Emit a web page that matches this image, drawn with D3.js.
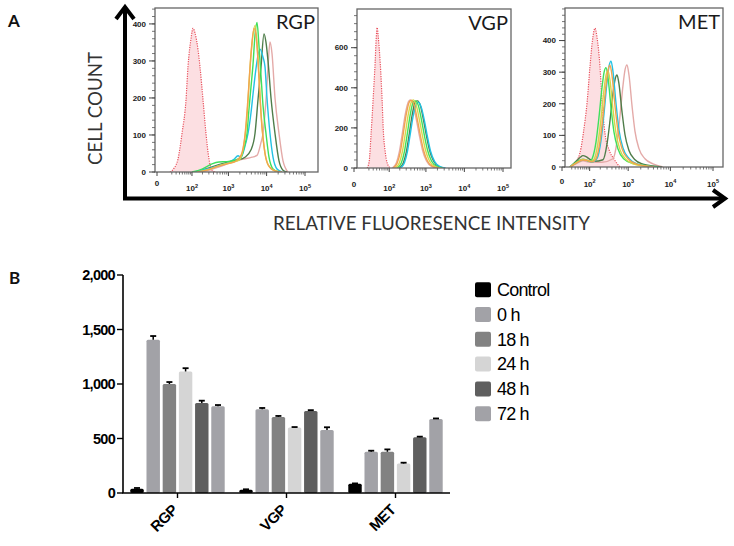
<!DOCTYPE html>
<html><head><meta charset="utf-8">
<script src="https://cdn.jsdelivr.net/npm/d3@7"></script>
<style>body{margin:0;background:#fff}svg{display:block}</style>
</head><body>
<svg id="c" width="734" height="546"></svg>
<script>
// ================= Panel A: flow histograms (intensity, cell count) =================
const histNames = ["RGP", "VGP", "MET"];
const xTickValues = [0, 100, 1000, 10000, 100000];
const xTickExps = ["", "2", "3", "4", "5"];
const rgpYTicks = [0, 100, 200, 300, 400];
const vgpYTicks = [0, 200, 400, 600];
const metYTicks = [0, 100, 200, 300, 400];

const rgpControl = [[16.5,0],[24.8,10],[35.3,35],[48.7,104],[65.7,195],[75.9,285],[93.5,360],[107,388],[123,375],[150,330],[170,285],[207,195],[250,104],[302,35],[365,5],[467,0]];
const rgpPink = [[194,0],[497,12],[1243,26],[2275,34],[4155,40],[5612,45],[7137,80],[8048,104],[9637,195],[10870,284],[12250,351],[13820,320],[16540,200],[21030,104],[26730,30],[36080,0]];
const rgpDarkGreen = [[140,0],[365,14],[917,26],[1682,32],[2726,40],[3912,60],[4976,104],[5960,195],[7137,284],[8546,373],[9637,350],[10870,300],[13010,200],[16540,104],[21030,30],[26730,5],[33980,0]];
const rgpCyan = [[123,0],[267,8],[497,16],[917,24],[1403,34],[1787,44],[2142,40],[2726,70],[3266,104],[3912,160],[4412,210],[5285,280],[5960,315],[6721,332],[8048,310],[9075,284],[10230,200],[12250,104],[14670,40],[18650,8],[25180,0]];
const rgpGreen = [[100,0],[194,8],[365,22],[562,27],[917,28],[1490,32],[2142,40],[2566,65],[3075,104],[3468,170],[3912,230],[4412,290],[4976,370],[5612,404],[6330,340],[7137,260],[8048,180],[9637,104],[11540,40],[14670,8],[19800,0]];
const rgpYellow = [[140,0],[365,10],[676,20],[1243,26],[1898,32],[2416,60],[3075,150],[3684,280],[4412,370],[4976,396],[5612,350],[6330,260],[7137,160],[8546,70],[10870,20],[15580,4],[23710,0]];
const rgpOrange = [[140,0],[267,5],[497,15],[917,22],[1490,28],[2142,45],[2726,100],[3266,200],[3912,320],[4686,388],[5285,370],[5960,300],[6721,200],[7579,120],[9075,50],[11540,15],[16540,3],[25180,0]];

const vgpControl = [[16.5,0],[20.4,30],[24.8,173],[29.7,340],[35.3,527],[38.4,640],[41.6,700],[45,660],[48.7,600],[52.6,527],[61,330],[65.7,200],[75.9,80],[87.2,25],[107,0]];
const vgpPink = [[123,0],[160,25],[194,80],[235,173],[284,270],[343,330],[388,340],[467,310],[562,240],[676,160],[812,90],[1036,35],[1403,8],[2016,0]];
const vgpDarkGreen = [[194,0],[250,25],[302,80],[365,173],[439,270],[529,330],[598,335],[719,310],[863,240],[1036,160],[1243,90],[1583,35],[2142,8],[3075,0]];
const vgpCyan = [[207,0],[267,25],[322,80],[388,173],[467,265],[562,320],[636,328],[764,300],[917,235],[1100,155],[1320,85],[1682,33],[2275,8],[3266,0]];
const vgpGreen = [[170,0],[220,25],[267,80],[322,173],[388,270],[467,330],[529,335],[636,310],[764,240],[917,160],[1100,90],[1403,35],[1898,8],[2726,0]];
const vgpYellow = [[150,0],[194,25],[235,80],[284,173],[343,270],[413,330],[467,340],[562,310],[676,240],[812,160],[975,90],[1243,35],[1682,8],[2416,0]];
const vgpOrange = [[131,0],[170,25],[207,80],[250,173],[302,270],[365,330],[413,338],[497,310],[598,240],[719,160],[863,90],[1100,35],[1490,8],[2142,0]];

const metControl = [[15.6,0],[32.7,15],[51.8,60],[62.5,106],[84.5,211],[102,317],[121,400],[143,439],[163,410],[196,317],[222,211],[266,106],[337,55],[450,25],[633,0]];
const metPink = [[15.6,0],[32.7,10],[61,20],[102,15],[222,15],[425,26],[535,81],[633,162],[750,258],[839,307],[937,323],[1047,291],[1237,194],[1458,113],[1816,58],[2520,26],[3900,10],[6708,0]];
const metDarkGreen = [[15.6,0],[32.7,18],[47.6,30],[61,36],[76.8,33],[102,24],[134,18],[236,23],[300,73],[357,146],[425,233],[477,276],[535,291],[599,262],[709,175],[839,102],[1047,52],[1458,23],[2262,9],[3900,3],[6355,0]];
const metCyan = [[15.6,0],[32.7,12],[61,22],[88.9,20],[117,15],[163,27],[209,84],[250,168],[300,268],[337,318],[379,335],[425,302],[505,201],[599,117],[750,60],[1047,27],[1627,10],[2813,3],[4115,0]];
const metGreen = [[15.6,0],[32.7,15],[61,25],[102,18],[117,25],[152,78],[184,157],[222,251],[250,298],[282,314],[318,283],[379,188],[450,110],[566,57],[793,25],[1237,12],[2142,6],[3312,2],[5116,0]];
const metYellow = [[15.6,0],[32.7,12],[61,24],[88.9,20],[110,18],[134,24],[173,76],[209,152],[250,244],[282,290],[318,305],[357,275],[425,183],[505,107],[633,55],[887,24],[1381,9],[2387,3],[4115,0]];
const metOrange = [[15.6,0],[32.7,12],[61,22],[88.9,20],[117,16],[152,26],[196,80],[236,161],[282,258],[318,306],[357,322],[401,290],[477,193],[566,113],[709,58],[991,26],[1541,10],[2664,3],[4115,0]];

// ================= Panel B: bar chart =================
const groups = ["RGP", "VGP", "MET"];
const conditions = ["Control", "0 h", "18 h", "24 h", "48 h", "72 h"];
const rgpMeans = [40, 1405, 1000, 1115, 825, 795];
const rgpErrs  = [6, 35, 18, 30, 22, 12];
const vgpMeans = [30, 768, 697, 600, 752, 578];
const vgpErrs  = [4, 12, 10, 5, 8, 25];
const metMeans = [85, 378, 378, 270, 512, 680];
const metErrs  = [3, 10, 22, 8, 5, 4];
const barYTicks = [0, 500, 1000, 1500, 2000];
const barColors = ["#000000", "#a2a2a7", "#828282", "#d5d5d5", "#5f5f5f", "#a2a2a7"];

// ================= Drawing =================
const svg = d3.select("#c");
const ARIAL = "'Liberation Sans', Arial, sans-serif";
const CAL = "Lato, 'Open Sans', sans-serif";
const curveColors = {pink:"#e4aaa8", darkgreen:"#4f7d4a", cyan:"#22c2e4", green:"#3ee05c", yellow:"#d4d84c", orange:"#f2a44e"};

const histCfg = [
  {name:histNames[0], ctrl:rgpControl, curves:[["pink",rgpPink],["darkgreen",rgpDarkGreen],["cyan",rgpCyan],["green",rgpGreen],["yellow",rgpYellow],["orange",rgpOrange]],
   yTicks:rgpYTicks, yMax:443, minor:20, c:14, xr:[157,305], f:[155,8,318,172], lblY:191, zeroY:185.5},
  {name:histNames[1], ctrl:vgpControl, curves:[["pink",vgpPink],["darkgreen",vgpDarkGreen],["cyan",vgpCyan],["green",vgpGreen],["yellow",vgpYellow],["orange",vgpOrange]],
   yTicks:vgpYTicks, yMax:793, minor:40, c:14, xr:[354,503], f:[357,9,511,168], lblY:191, zeroY:186.5},
  {name:histNames[2], ctrl:metControl, curves:[["pink",metPink],["darkgreen",metDarkGreen],["cyan",metCyan],["green",metGreen],["yellow",metYellow],["orange",metOrange]],
   yTicks:metYTicks, yMax:503, minor:20, c:29, xr:[562,713], f:[565,8,723,167], lblY:186.5, zeroY:183.5}
];

const defs = svg.append("defs");
histCfg.forEach((p, i) => {
  const [fx0, fy0, fx1, fy1] = p.f;
  const x = d3.scaleSymlog().constant(p.c).domain([0, 1e5]).range(p.xr);
  const y = d3.scaleLinear().domain([0, p.yMax]).range([fy1, fy0]);
  const g = svg.append("g");
  defs.append("clipPath").attr("id", "clip" + i).append("rect")
    .attr("x", fx0).attr("y", fy0).attr("width", fx1 - fx0).attr("height", fy1 - fy0);
  g.append("rect").attr("x", fx0).attr("y", fy0).attr("width", fx1 - fx0).attr("height", fy1 - fy0)
    .attr("fill", "#fff");
  const cg = g.append("g").attr("clip-path", `url(#clip${i})`);
  const line = d3.line().x(d => x(d[0])).y(d => y(d[1])).curve(d3.curveMonotoneX);
  const area = d3.area().x(d => x(d[0])).y0(y(0)).y1(d => y(d[1])).curve(d3.curveMonotoneX);
  cg.append("path").attr("d", area(p.ctrl)).attr("fill", "rgba(248,185,190,0.45)");
  cg.append("path").attr("d", line(p.ctrl)).attr("fill", "none").attr("stroke", "#e8505c")
    .attr("stroke-width", 1.2).attr("stroke-dasharray", "1.2,1.2");
  p.curves.forEach(([col, data]) => {
    cg.append("path").attr("d", line(data)).attr("fill", "none")
      .attr("stroke", curveColors[col]).attr("stroke-width", 1.4);
  });
  g.append("rect").attr("x", fx0).attr("y", fy0).attr("width", fx1 - fx0).attr("height", fy1 - fy0)
    .attr("fill", "none").attr("stroke", "#666").attr("stroke-width", 1.3);
  // y ticks
  d3.range(0, p.yMax, p.minor).forEach(v => {
    g.append("line").attr("x1", fx0 - 3).attr("x2", fx0).attr("y1", y(v)).attr("y2", y(v))
      .attr("stroke", "#555").attr("stroke-width", 0.8);
  });
  p.yTicks.forEach(v => {
    g.append("line").attr("x1", fx0 - 6).attr("x2", fx0).attr("y1", y(v)).attr("y2", y(v))
      .attr("stroke", "#444").attr("stroke-width", 1);
    g.append("text").attr("x", fx0 - 9).attr("y", y(v)).attr("dy", "0.35em")
      .attr("text-anchor", "end").attr("font-family", ARIAL).attr("font-weight", "bold")
      .attr("font-size", 8).attr("fill", "#222").text(v);
  });
  // x ticks
  const minorX = [];
  for (let e = 1; e <= 4; e++) for (let m = 2; m <= 9; m++) minorX.push(m * Math.pow(10, e));
  minorX.forEach(v => {
    const xx = x(v);
    if (xx > fx0 && xx < fx1) g.append("line").attr("x1", xx).attr("x2", xx).attr("y1", fy1).attr("y2", fy1 + 2.5)
      .attr("stroke", "#555").attr("stroke-width", 0.8);
  });
  xTickValues.forEach((v, k) => {
    const xx = x(v);
    g.append("line").attr("x1", xx).attr("x2", xx).attr("y1", fy1).attr("y2", fy1 + 4)
      .attr("stroke", "#444").attr("stroke-width", 1);
    const t = g.append("text").attr("x", xx).attr("text-anchor", "middle")
      .attr("font-family", ARIAL).attr("font-weight", "bold").attr("font-size", 8).attr("fill", "#222");
    if (v === 0) { t.attr("y", p.zeroY).text("0"); }
    else {
      t.attr("y", p.lblY).text("10");
      t.append("tspan").attr("dy", -3.5).attr("font-size", 5.5).text(xTickExps[k]);
    }
  });
  g.append("text").attr("x", fx1 - 3).attr("y", fy0 + 21).attr("text-anchor", "end")
    .attr("font-family", CAL).attr("font-size", 20).attr("fill", "#1a1a1a").text(p.name);
});

// big axes with arrows
svg.append("path").attr("d", "M125,200 L125,8").attr("stroke", "#000").attr("stroke-width", 4);
svg.append("path").attr("d", "M116,19 L125,7 L134,19").attr("stroke", "#000").attr("stroke-width", 4).attr("fill", "none");
svg.append("path").attr("d", "M123,198.5 L724,198.5").attr("stroke", "#000").attr("stroke-width", 4);
svg.append("path").attr("d", "M713,190 L725,198.5 L713,207").attr("stroke", "#000").attr("stroke-width", 4).attr("fill", "none");
svg.append("text").attr("transform", "translate(102,108.5) rotate(-90)").attr("text-anchor", "middle")
  .attr("font-family", CAL).attr("font-size", 20).attr("fill", "#333")
  .attr("textLength", 113).attr("lengthAdjust", "spacingAndGlyphs").text("CELL COUNT");
svg.append("text").attr("x", 431.5).attr("y", 230).attr("text-anchor", "middle")
  .attr("font-family", CAL).attr("font-size", 19).attr("fill", "#333")
  .attr("textLength", 317).attr("lengthAdjust", "spacingAndGlyphs").text("RELATIVE FLUORESENCE INTENSITY");
svg.append("text").attr("x", 8).attr("y", 27).attr("font-family", CAL).attr("font-weight", "bold")
  .attr("font-size", 17).attr("fill", "#111").text("A");
svg.append("text").attr("x", 9).attr("y", 284).attr("font-family", CAL).attr("font-weight", "bold")
  .attr("font-size", 17).attr("fill", "#111").text("B");

// ---------- Panel B ----------
const barMeans = {RGP: rgpMeans, VGP: vgpMeans, MET: metMeans};
const barErrs = {RGP: rgpErrs, VGP: vgpErrs, MET: metErrs};
const yB = d3.scaleLinear().domain([0, 2000]).range([493, 275]);
const x0 = d3.scaleBand().domain(groups).range([123, 450]);
const x1 = d3.scaleBand().domain(conditions).range([0, x0.bandwidth()]).paddingInner(0.17).paddingOuter(0.45);
const gb = svg.append("g");
groups.forEach(gr => {
  conditions.forEach((c, i) => {
    const v = barMeans[gr][i], e = barErrs[gr][i];
    const bx = x0(gr) + x1(c), bw = x1.bandwidth();
    gb.append("rect").attr("x", bx).attr("y", yB(v)).attr("width", bw).attr("height", yB(0) - yB(v))
      .attr("fill", barColors[i]).attr("rx", 1.5);
    const cx = bx + bw / 2;
    gb.append("line").attr("x1", cx).attr("x2", cx).attr("y1", yB(v)).attr("y2", yB(v + e))
      .attr("stroke", "#000").attr("stroke-width", 1.5);
    gb.append("line").attr("x1", cx - 3).attr("x2", cx + 3).attr("y1", yB(v + e)).attr("y2", yB(v + e))
      .attr("stroke", "#000").attr("stroke-width", 1.8);
  });
});
gb.append("line").attr("x1", 123).attr("x2", 123).attr("y1", yB(2000)).attr("y2", yB(0)).attr("stroke", "#000").attr("stroke-width", 1.6);
gb.append("line").attr("x1", 122.2).attr("x2", 450).attr("y1", yB(0)).attr("y2", yB(0)).attr("stroke", "#000").attr("stroke-width", 1.6);
const fmt = d3.format(",");
barYTicks.forEach(v => {
  gb.append("line").attr("x1", 117).attr("x2", 123).attr("y1", yB(v)).attr("y2", yB(v)).attr("stroke", "#000").attr("stroke-width", 1.4);
  gb.append("text").attr("x", 115).attr("y", yB(v)).attr("dy", "0.36em").attr("text-anchor", "end")
    .attr("font-family", ARIAL).attr("font-weight", "bold").attr("font-size", 14.5)
    .attr("letter-spacing", -0.7).attr("fill", "#000").text(fmt(v));
});
groups.forEach(gr => {
  const cx = x0(gr) + x0.bandwidth() / 2;
  gb.append("line").attr("x1", cx).attr("x2", cx).attr("y1", yB(0)).attr("y2", yB(0) + 5).attr("stroke", "#000").attr("stroke-width", 1.4);
  gb.append("text").attr("transform", `translate(${cx + 1},${yB(0) + 18}) rotate(-45)`)
    .attr("text-anchor", "end").attr("font-family", ARIAL).attr("font-weight", "bold")
    .attr("font-size", 15).attr("letter-spacing", -0.6).attr("fill", "#000").text(gr);
});
conditions.forEach((c, i) => {
  const cy = 289.7 + i * 24.8;
  gb.append("rect").attr("x", 475).attr("y", cy - 7.5).attr("width", 16).attr("height", 15).attr("rx", 2).attr("fill", barColors[i]);
  gb.append("text").attr("x", 497).attr("y", cy + 6.3).attr("font-family", ARIAL).attr("font-size", 18)
    .attr("letter-spacing", -0.8).attr("fill", "#000").text(c);
});
</script>
</body></html>
